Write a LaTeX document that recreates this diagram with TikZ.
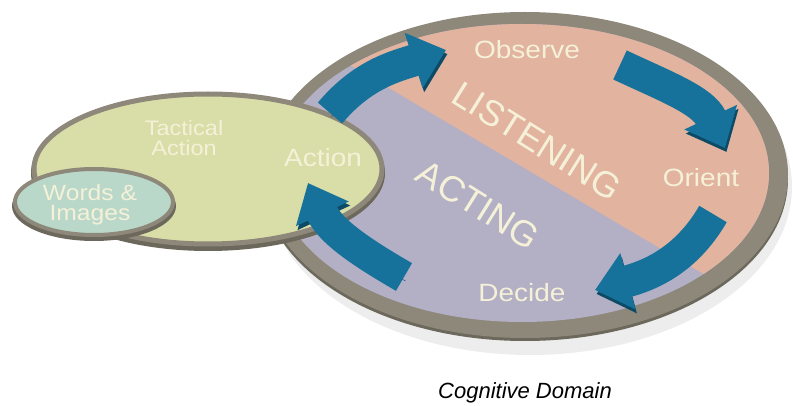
\documentclass[tikz,border=0pt]{standalone}
\usepackage{fontspec}
\setmainfont{Liberation Sans}
\usetikzlibrary{arrows.meta}

\definecolor{rim}{RGB}{141,136,121}
\definecolor{rimdark}{RGB}{108,104,92}
\definecolor{listen}{RGB}{226,179,158}
\definecolor{act}{RGB}{179,175,197}
\definecolor{tactic}{RGB}{217,221,167}
\definecolor{words}{RGB}{185,216,201}
\definecolor{loopblue}{RGB}{22,114,155}
\definecolor{loopdark}{RGB}{12,74,102}
\definecolor{cream}{RGB}{245,241,216}

\tikzset{
  phase/.style={text=cream, font=\fontsize{25}{28}\selectfont, xscale=1.12},
  phasesmall/.style={text=cream, align=center, font=\fontsize{21}{20}\selectfont, xscale=1.12},
  bigword/.style={text=cream, font=\fontsize{36}{40}\selectfont, rotate=-32},
  cyclearrow/.style={line width=32pt, color=loopblue, -{Triangle[width=56pt, length=34pt]},
    preaction={draw=loopdark, transform canvas={shift={(1.5pt,-4pt)}}}}
}

\begin{document}
\begin{tikzpicture}
[every node/.style={inner sep=0pt}]
\useasboundingbox (0pt,0pt) rectangle (793pt,-406pt);
% soft shadow
\fill [black!7] (530pt,-187pt) ellipse [x radius=262pt, y radius=168pt];
% cognitive domain
\fill [rimdark] (525pt,-179pt) ellipse [x radius=263pt, y radius=162pt];
\fill [rim] (525pt,-175pt) ellipse [x radius=263pt, y radius=163pt];
\fill [act] (522pt,-173pt) ellipse [x radius=247pt, y radius=149pt];
\begin{scope}
\clip (522pt,-173pt) ellipse [x radius=247pt, y radius=149pt];
\fill [listen] (240pt,0pt) -- (800pt,-331pt) -- (800pt,0pt) -- cycle;
\end{scope}
% tactical action
\fill [rimdark] (208pt,-173pt) ellipse [x radius=177pt, y radius=78pt];
\filldraw [fill=tactic, draw=rim, line width=5pt] (208pt,-169pt) ellipse [x radius=174pt, y radius=75pt];
% words and images
\fill [rimdark] (94pt,-206pt) ellipse [x radius=82pt, y radius=35pt];
\filldraw [fill=words, draw=rim, line width=4pt] (94pt,-202pt) ellipse [x radius=79pt, y radius=33pt];

\node (tactical) [phasesmall] at (184pt,-138pt) {Tactical\\Action};
\node (words) [phasesmall, font=\fontsize{22}{20}\selectfont] at (90pt,-205pt) {Words \&\\Images};
\node (action) [phase] at (323pt,-158pt) {Action};
\node (observe) [phase] at (527pt,-50pt) {Observe};
\node (orient) [phase] at (701pt,-178pt) {Orient};
\node (decide) [phase] at (522pt,-293pt) {Decide};
\node (listening) [bigword] at (537pt,-141pt) {LISTENING};
\node (acting) [bigword] at (478pt,-205pt) {ACTING};
\node (domain) [font=\itshape\fontsize{22}{26}\selectfont] at (525pt,-393pt) {Cognitive Domain};

\coordinate (loop1a) at (330pt,-113pt);
\coordinate (loop1b) at (446pt,-50pt);
\coordinate (loop2a) at (620pt,-65pt);
\coordinate (loop2b) at (725pt,-148pt);
\coordinate (loop3a) at (713pt,-214pt);
\coordinate (loop3b) at (595pt,-290pt);
\coordinate (loop4a) at (404pt,-277pt);
\coordinate (loop4b) at (308pt,-183pt);
\draw [cyclearrow] (loop1a) to [out=50, in=198] (loop1b);
\draw [cyclearrow] (loop2a) to [out=-25, in=115] (loop2b);
\draw [cyclearrow] (loop3a) to [out=-120, in=15] (loop3b);
\draw [cyclearrow] (loop4a) to [out=150, in=295] (loop4b);

\end{tikzpicture}
\end{document}
